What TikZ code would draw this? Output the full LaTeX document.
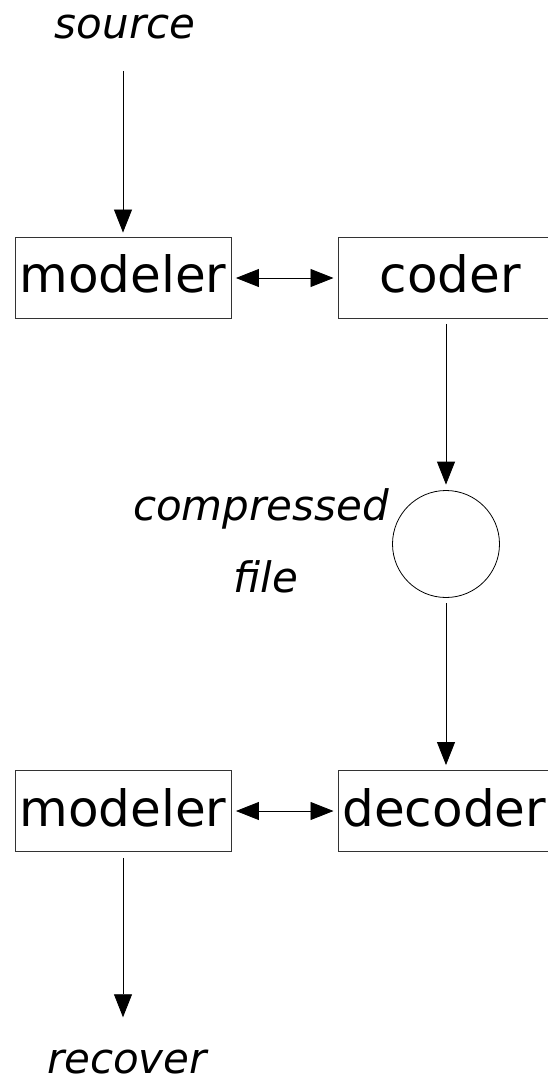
\documentclass[tikz,border=0pt]{standalone}
\usepackage{fontspec}
\setmainfont{DejaVu Sans}
\usepackage{tikz}
\usetikzlibrary{arrows.meta,positioning,shapes.geometric}

\begin{document}
\begin{tikzpicture}[
  x=1pt, y=-1pt,
  box/.style={rectangle, draw=black!80, line width=0.9pt, minimum height=81pt, inner sep=0pt, text depth=8pt, font=\fontsize{50}{60}\selectfont},
  leftbox/.style={box, minimum width=216pt},
  rightbox/.style={box, anchor=west, minimum width=224pt},
  store/.style={circle, draw=black, line width=0.8pt, minimum size=107pt, inner sep=0pt},
  lbl/.style={anchor=base, inner sep=0pt, font=\itshape\fontsize{42}{50}\selectfont},
  arrow/.style={-{Triangle[length=23pt, width=18pt]}, line width=0.8pt, draw=black},
  dbl/.style={{Triangle[length=23pt, width=18pt]}-{Triangle[length=23pt, width=18pt]}, line width=0.8pt, draw=black, shorten <=4.5pt, shorten >=4.5pt}
]
\useasboundingbox (0,0) rectangle (548,1081);

\node[lbl] (source) at (125,39) {source};
\node[leftbox] (mod1) at (123,278) {modeler};
\node[rightbox] (coder) at (338,278) {coder};
\node[store] (file) at (446,544) {};
\node[lbl] (comp) at (261,520) {compressed};
\node[lbl] (filelbl) at (266,592) {file};
\node[leftbox] (mod2) at (123,811) {modeler};
\node[rightbox, minimum width=0pt, text width=204pt, align=left, inner xsep=4pt] (decoder) at (338,811) {decoder};
\node[lbl] (recover) at (127,1073) {recover};

\draw[arrow, shorten <=31pt, shorten >=4.5pt] (source.south -| mod1.north) -- (mod1.north);
\draw[dbl] (mod1) -- (coder);
\draw[arrow, shorten <=5pt, shorten >=5.5pt] (coder.south -| file.north) -- (file.north);
\draw[arrow, shorten <=5.5pt, shorten >=5pt] (file.south) -- (decoder.north -| file.south);
\draw[dbl] (mod2) -- (decoder);
\draw[arrow, shorten <=6pt, shorten >=32pt] (mod2.south) -- (recover.north -| mod2.south);
\end{tikzpicture}
\end{document}
